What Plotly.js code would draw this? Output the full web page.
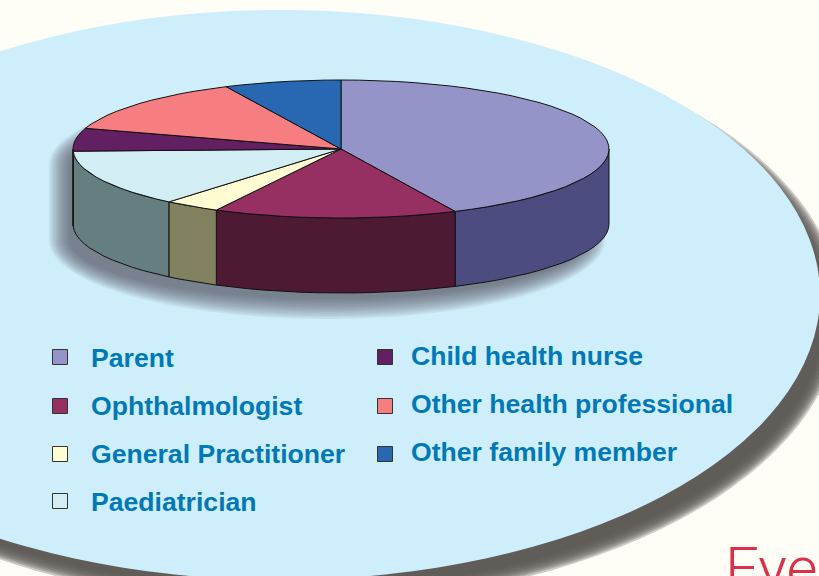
<!DOCTYPE html>
<html>
<head>
<meta charset="utf-8">
<script src="https://cdn.plot.ly/plotly-3.0.1.min.js"></script>
<style>html,body{margin:0;padding:0;background:#FFFEF6;overflow:hidden}</style>
</head>
<body>
<div id="chart" style="width:819px;height:576px"></div>
<script>
const categories = ['Parent','Ophthalmologist','General Practitioner','Paediatrician','Child health nurse','Other health professional','Other family member'];
const shares = [43.0, 14.7, 3.4, 13.4, 5.35, 13.1, 7.05];
const topColors = ['#9494C8','#962F62','#FFFBD2','#D3EDF4','#621F62','#F67E80','#2867B2'];
const sideColors = ['#4C4C80','#4E1933','#81815F','#657F80','#321032','#7E4042','#14345C'];

const legendX = [60,60,60,60,385,385,385];
const legendMarkY = [357,406,454,501,357,406,454];
const legendTextX = [91,91,91,91,411,411,411];
const legendTextY = [358,406,454,502,356,404,452];

const CX=341, CY=149, RX=268, RY=69, DEPTH=75;
const pt=(deg,cx,cy,rx,ry)=>{const r=deg*Math.PI/180;return [cx+rx*Math.sin(r),cy-ry*Math.cos(r)];};
function arc(a,b,cx,cy,rx,ry){
  const out=[],n=Math.max(2,Math.ceil(Math.abs(b-a)/4));
  for(let i=0;i<=n;i++) out.push(pt(a+(b-a)*i/n,cx,cy,rx,ry));
  return out;
}
const toPath=p=>'M'+p.map(q=>q[0].toFixed(1)+','+q[1].toFixed(1)).join('L')+'Z';

const shapes=[];
// backdrop ellipse + soft shadow
const EC={x:280,y:295,rx:540,ry:285};
const sN=10;
for(let i=0;i<sN;i++){
  const s=8-16*i/(sN-1);
  shapes.push({type:'circle',xref:'x',yref:'y',layer:'below',
    x0:EC.x+13-EC.rx-s,x1:EC.x+13+EC.rx+s,y0:EC.y+17-EC.ry-s,y1:EC.y+17+EC.ry+s,
    fillcolor:'#5C5857',opacity:0.3,line:{width:0}});
}
shapes.push({type:'circle',xref:'x',yref:'y',layer:'below',
  x0:EC.x-EC.rx,x1:EC.x+EC.rx,y0:EC.y-EC.ry,y1:EC.y+EC.ry,fillcolor:'#CFEEFB',line:{width:0}});
// pie shadow
const pN=12;
for(let i=0;i<pN;i++){
  const s=10-20*i/(pN-1);
  const cx=CX-14,cy=CY+16;
  const p=arc(-90,90,cx,cy,RX+s,RY+s).concat(arc(90,270,cx,cy+DEPTH,RX+s,RY+s));
  shapes.push({type:'path',xref:'x',yref:'y',layer:'below',path:toPath(p),
    fillcolor:'#4E5458',opacity:0.085,line:{width:0}});
}

const traces=[];
const line={color:'#111111',width:1};
function poly(p,color){
  const c=p.concat([p[0]]);
  traces.push({type:'scatter',mode:'lines',x:c.map(q=>q[0]),y:c.map(q=>q[1]),fill:'toself',
    fillcolor:color,line:line,hoverinfo:'skip',showlegend:false});
}
const total=shares.reduce((a,b)=>a+b,0);
let acc=0;
const spans=shares.map(v=>{const a=acc*360/total;acc+=v;return [a,acc*360/total];});
// walls: only the front half of the drum shows
spans.forEach((s,i)=>{
  const a=Math.max(s[0],90),b=Math.min(s[1],270);
  if(b<=a) return;
  poly(arc(a,b,CX,CY,RX,RY).concat(arc(b,a,CX,CY+DEPTH,RX,RY)),sideColors[i]);
});
spans.forEach((s,i)=>{
  poly([[CX,CY]].concat(arc(s[0],s[1],CX,CY,RX,RY)),topColors[i]);
});
// legend marks
traces.push({type:'scatter',mode:'markers',x:legendX,y:legendMarkY,hoverinfo:'skip',showlegend:false,
  marker:{symbol:'square',size:15,color:topColors,line:{color:'#333333',width:1}}});

const annotations=categories.map((c,i)=>({xref:'x',yref:'y',x:legendTextX[i],y:legendTextY[i],
  text:c,showarrow:false,xanchor:'left',yanchor:'middle',align:'left',xshift:-2,
  font:{family:'Liberation Sans, Arial, sans-serif',size:26.6,weight:700,color:'#0079B6'}}));
annotations.push({xref:'x',yref:'y',x:723,y:568,text:'Eye',showarrow:false,xanchor:'left',yanchor:'middle',
  font:{family:'Roboto, Liberation Sans, sans-serif',size:60,weight:300,color:'#DA3048'}});

Plotly.newPlot('chart',traces,{
  width:819,height:576,margin:{l:0,r:0,t:0,b:0,pad:0},
  paper_bgcolor:'#FFFEF6',plot_bgcolor:'#FFFEF6',showlegend:false,
  xaxis:{range:[0,819],visible:false,fixedrange:true},
  yaxis:{range:[576,0],visible:false,fixedrange:true},
  shapes:shapes,annotations:annotations
},{displayModeBar:false,staticPlot:true});
</script>
</body>
</html>
